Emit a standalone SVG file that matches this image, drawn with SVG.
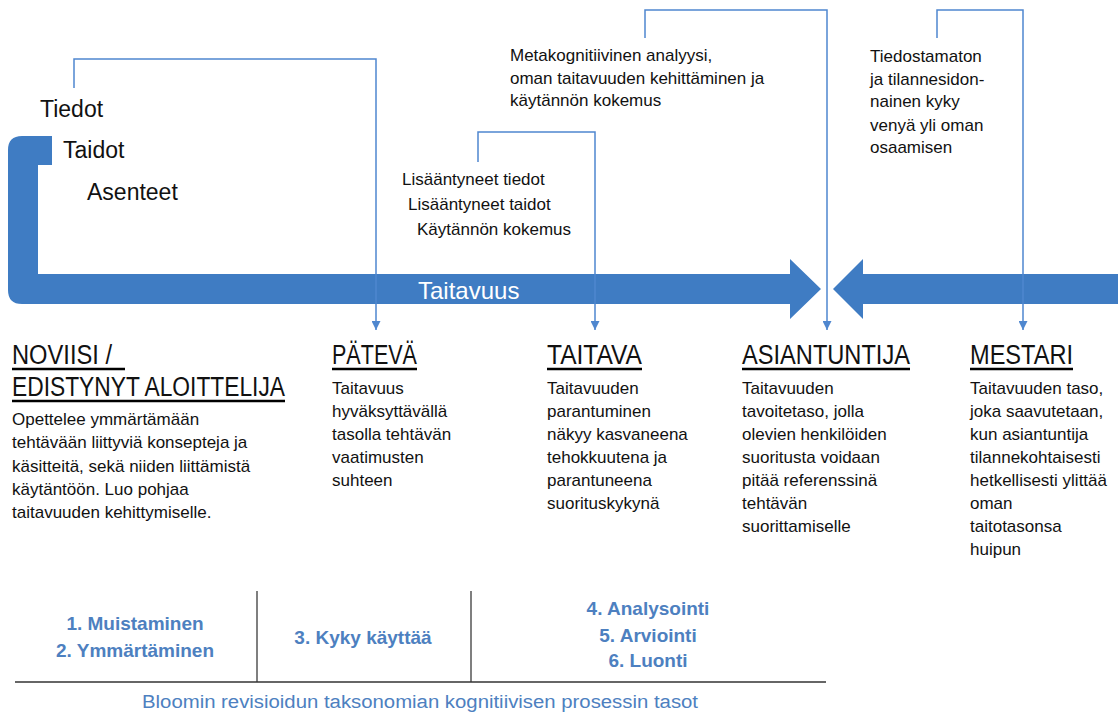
<svg xmlns="http://www.w3.org/2000/svg" width="1118" height="718" viewBox="0 0 1118 718">
<style>
text{font-family:"Liberation Sans",Arial,sans-serif;fill:#111}
.lbl{font-size:23px}
.body{font-size:17px}
.head{font-size:27px}
.ul{stroke:#000;stroke-width:2.6}
.conn{fill:none;stroke:#4f87cf;stroke-width:1.5}
.bloom{font-size:19px;font-weight:bold;fill:#4d80c0;text-anchor:middle}
.cap{font-size:18px;fill:#4d80c0}
.rule{stroke:#333;stroke-width:1.5}
.vrule{stroke:#555;stroke-width:1.5}
</style>
<defs>
<marker id="ah" markerUnits="userSpaceOnUse" markerWidth="9" markerHeight="9" viewBox="0 0 10 10" refX="10" refY="5" orient="auto">
<path d="M0,0 L10,5 L0,10 Z" fill="#4f87cf"/>
</marker>
</defs>
<rect width="1118" height="718" fill="#fff"/>

<g id="taitavuus-arrow">
<path d="M52,136 L22,136 Q8,136 8,150 L8,290 Q8,304 22,304 L790,304 L790,319 L821,289 L790,259 L790,274 L38,274 L38,165 L52,165 Z" fill="#3f7cc3"/>
<text x="418" y="299" font-size="24" style="fill:#fff">Taitavuus</text>
</g>
<g id="counter-arrow">
<path d="M1118,274 L863,274 L863,259 L833,289 L863,319 L863,304 L1118,304 Z" fill="#3f7cc3"/>
</g>

<g id="connectors">
<path class="conn" d="M74,88 V59 H376 V330" marker-end="url(#ah)"/>
<path class="conn" d="M478,162 V132 H595 V330" marker-end="url(#ah)"/>
<path class="conn" d="M645,38 V10 H827 V330" marker-end="url(#ah)"/>
<path class="conn" d="M937,38 V10 H1023 V330" marker-end="url(#ah)"/>
</g>

<g id="ksa-label">
<text class="lbl" x="40" y="117">Tiedot</text>
<text class="lbl" x="63" y="158">Taidot</text>
<text class="lbl" x="87" y="200">Asenteet</text>
</g>

<g id="lisaantyneet-label">
<text class="body" x="402" y="185">Lisääntyneet tiedot</text>
<text class="body" x="408" y="210">Lisääntyneet taidot</text>
<text class="body" x="417" y="235">Käytännön kokemus</text>
</g>

<g id="meta-label">
<text class="body" x="510" y="61">Metakognitiivinen analyysi,</text>
<text class="body" x="510" y="84">oman taitavuuden kehittäminen ja</text>
<text class="body" x="510" y="106">käytännön kokemus</text>
</g>

<g id="tiedostamaton-label">
<text class="body" x="870" y="62">Tiedostamaton</text>
<text class="body" x="870" y="85">ja tilannesidon-</text>
<text class="body" x="870" y="107">nainen kyky</text>
<text class="body" x="870" y="131">venyä yli oman</text>
<text class="body" x="870" y="153">osaamisen</text>
</g>

<g id="noviisi">
<text class="head" x="12" y="364" textLength="100" lengthAdjust="spacingAndGlyphs">NOVIISI /</text>
<line class="ul" x1="12" y1="369" x2="125" y2="369"/>
<text class="head" x="12" y="396" textLength="273" lengthAdjust="spacingAndGlyphs">EDISTYNYT ALOITTELIJA</text>
<line class="ul" x1="12" y1="401" x2="285" y2="401"/>
<text class="body" x="12" y="425">Opettelee ymmärtämään</text>
<text class="body" x="12" y="448">tehtävään liittyviä konsepteja ja</text>
<text class="body" x="12" y="472">käsitteitä, sekä niiden liittämistä</text>
<text class="body" x="12" y="495">käytäntöön. Luo pohjaa</text>
<text class="body" x="12" y="518">taitavuuden kehittymiselle.</text>
</g>

<g id="pateva">
<text class="head" x="332" y="364" textLength="85" lengthAdjust="spacingAndGlyphs">PÄTEVÄ</text>
<line class="ul" x1="332" y1="369" x2="417" y2="369"/>
<text class="body" x="332" y="394">Taitavuus</text>
<text class="body" x="332" y="417">hyväksyttävällä</text>
<text class="body" x="332" y="440">tasolla tehtävän</text>
<text class="body" x="332" y="463">vaatimusten</text>
<text class="body" x="332" y="486">suhteen</text>
</g>

<g id="taitava">
<text class="head" x="547" y="364" textLength="95" lengthAdjust="spacingAndGlyphs">TAITAVA</text>
<line class="ul" x1="547" y1="369" x2="642" y2="369"/>
<text class="body" x="547" y="394">Taitavuuden</text>
<text class="body" x="547" y="417">parantuminen</text>
<text class="body" x="547" y="440">näkyy kasvaneena</text>
<text class="body" x="547" y="463">tehokkuutena ja</text>
<text class="body" x="547" y="486">parantuneena</text>
<text class="body" x="547" y="509">suorituskykynä</text>
</g>

<g id="asiantuntija">
<text class="head" x="742" y="364" textLength="168" lengthAdjust="spacingAndGlyphs">ASIANTUNTIJA</text>
<line class="ul" x1="742" y1="369" x2="910" y2="369"/>
<text class="body" x="742" y="394">Taitavuuden</text>
<text class="body" x="742" y="417">tavoitetaso, jolla</text>
<text class="body" x="742" y="440">olevien henkilöiden</text>
<text class="body" x="742" y="463">suoritusta voidaan</text>
<text class="body" x="742" y="486">pitää referenssinä</text>
<text class="body" x="742" y="509">tehtävän</text>
<text class="body" x="742" y="532">suorittamiselle</text>
</g>

<g id="mestari">
<text class="head" x="970" y="364" textLength="103" lengthAdjust="spacingAndGlyphs">MESTARI</text>
<line class="ul" x1="970" y1="369" x2="1073" y2="369"/>
<text class="body" x="970" y="394">Taitavuuden taso,</text>
<text class="body" x="970" y="417">joka saavutetaan,</text>
<text class="body" x="970" y="440">kun asiantuntija</text>
<text class="body" x="970" y="463">tilannekohtaisesti</text>
<text class="body" x="970" y="486">hetkellisesti ylittää</text>
<text class="body" x="970" y="509">oman</text>
<text class="body" x="970" y="532">taitotasonsa</text>
<text class="body" x="970" y="555">huipun</text>
</g>

<g id="bloom-table">
<line class="vrule" x1="257" y1="591" x2="257" y2="682"/>
<line class="vrule" x1="471" y1="591" x2="471" y2="682"/>
<line class="rule" x1="15" y1="682" x2="826" y2="682"/>
<text class="bloom" x="135" y="630">1. Muistaminen</text>
<text class="bloom" x="135" y="657">2. Ymmärtäminen</text>
<text class="bloom" x="363" y="644">3. Kyky käyttää</text>
<text class="bloom" x="648" y="615">4. Analysointi</text>
<text class="bloom" x="648" y="642">5. Arviointi</text>
<text class="bloom" x="648" y="667">6. Luonti</text>
<text class="cap" x="142" y="708" textLength="556" lengthAdjust="spacingAndGlyphs">Bloomin revisioidun taksonomian kognitiivisen prosessin tasot</text>
</g>
</svg>
